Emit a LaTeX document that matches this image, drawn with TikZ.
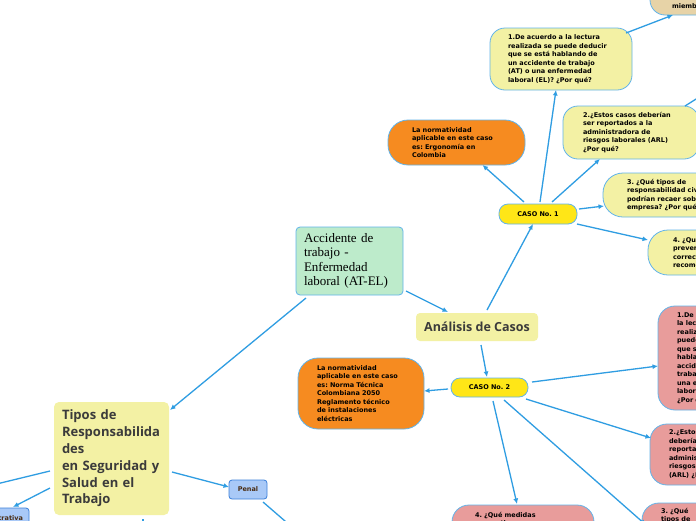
\documentclass[tikz,border=0pt]{standalone}
\usepackage{fontspec}
\setmainfont{DejaVu Sans}
\newfontfamily\slabfont{Liberation Serif}
\newfontfamily\headfont{Open Sans}
\usetikzlibrary{arrows.meta,calc}
\definecolor{conncol}{HTML}{2F9DE2}
\definecolor{bordcol}{HTML}{62B4EA}
\definecolor{qyellow}{HTML}{F3F1A4}
\definecolor{casoyel}{HTML}{FFE617}
\definecolor{orangec}{HTML}{F68B20}
\definecolor{pinkc}{HTML}{E89C9B}
\definecolor{greenc}{HTML}{BDEBCB}
\definecolor{beigec}{HTML}{E7D3A7}
\definecolor{penalfill}{HTML}{A9C9F7}
\definecolor{penalbord}{HTML}{3C80DA}
\definecolor{darktext}{HTML}{3B3B3B}
\definecolor{browntext}{HTML}{4A2C12}
\begin{document}
\frenchspacing
\begin{tikzpicture}[x=1pt,y=-1pt,
  conn/.style={draw=conncol,line width=1.3pt,-{Latex[length=5.5pt,width=5pt]}},
  plainconn/.style={draw=conncol,line width=1.3pt},
  box/.style={anchor=north west,inner ysep=0pt,outer sep=0pt,align=left,draw=bordcol,line width=0.8pt,
    font=\fontsize{6.5}{8.5}\selectfont\bfseries,text=black},
  qbox/.style={box,fill=qyellow,rounded corners=15pt},
  obox/.style={box,fill=orangec,rounded corners=20pt},
  pbox/.style={box,fill=pinkc,rounded corners=17pt},
  casobox/.style={box,fill=casoyel,rounded corners=9pt,align=center},
  bigbox/.style={anchor=north west,outer sep=0pt,inner ysep=0pt,align=left,rounded corners=5pt,
    font=\headfont\bfseries\fontsize{13}{16.8}\selectfont,text=darktext,fill=qyellow}
]
\useasboundingbox (0,0) rectangle (696,520);
\clip (0,0) rectangle (696,520);
\fill[white] (0,0) rectangle (696,520);

% ---- nodes ----
\node[box,fill=beigec,rounded corners=15pt,anchor=south west,inner xsep=22pt,text width=80pt,
  text height=33pt,text depth=7pt] (beige) at (650,15) {miembros};

\node[qbox,minimum width=142,minimum height=62,inner xsep=18pt,text width=106pt] (q1) at (490,28)
 {1.De acuerdo a la lectura\\realizada se puede deducir\\que se está hablando de\\un accidente de trabajo\\(AT) o una enfermedad\\laboral (EL)? ¿Por qué?};

\node[qbox,minimum width=136,minimum height=53,inner xsep=20pt,text width=96pt] (q2) at (563,106)
 {2.¿Estos casos deberían\\ser reportados a la\\administradora de\\riesgos laborales (ARL)\\¿Por qué?};

\node[obox,minimum width=137,minimum height=45,inner xsep=24pt,text width=89pt] (o1) at (388,120)
 {La normatividad\\aplicable en este caso\\es: Ergonomía en\\Colombia};

\node[casobox,minimum width=78,minimum height=20,inner xsep=4pt,text width=70pt] (caso1) at (499,204) {CASO No. 1};

\node[qbox,rounded corners=20pt,minimum width=180,minimum height=44,inner xsep=24pt,text width=132pt] (q3) at (603,173)
 {3. ¿Qué tipos de\\responsabilidad civil\\podrían recaer sobre la\\empresa? ¿Por qué?};

\node[qbox,rounded corners=20pt,minimum width=150,minimum height=45,inner xsep=25pt,text width=100pt] (q4) at (648,230)
 {4. ¿Qué medidas\\preventivas y\\correctivas\\recomendaría?};

\node[box,fill=greenc,rounded corners=4pt,minimum width=107,minimum height=68,inner xsep=8pt,text width=91pt,
  font=\slabfont\fontsize{13}{14.3}\selectfont] (acc) at (296,227)
 {Accidente de\\trabajo -\\Enfermedad\\laboral (AT-EL)};

\node[anchor=north west,outer sep=0pt,inner sep=0pt,fill=qyellow,rounded corners=4pt,minimum width=122,minimum height=28,
  font=\headfont\bfseries\fontsize{12.5}{14}\selectfont,text=darktext] (an) at (416,313) {Análisis de Casos};

\node[casobox,minimum width=77,minimum height=19,inner xsep=4pt,text width=69pt] (caso2) at (451,378) {CASO No. 2};

\node[obox,minimum width=126,minimum height=71,inner xsep=19pt,text width=88pt] (o2) at (298,358)
 {La normatividad\\aplicable en este caso\\es: Norma Técnica\\Colombiana 2050\\Reglamento técnico\\de instalaciones\\eléctricas};

\node[pbox,minimum width=130,minimum height=104,inner xsep=19pt,text width=92pt] (p1) at (658,306)
 {1.De acuerdo a\\la lectura\\realizada se\\puede deducir\\que se está\\hablando de un\\accidente de\\trabajo (AT) o\\una enfermedad\\laboral (EL)?\\¿Por qué?};

\node[pbox,minimum width=140,minimum height=61,inner xsep=19pt,text width=102pt] (p2) at (650,424)
 {2.¿Estos casos\\deberían ser\\reportados a la\\administradora de\\riesgos laborales\\(ARL) ¿Por qué?};

\node[pbox,inner ysep=5pt,inner xsep=19pt,text width=110pt] (p3) at (642,503)
 {3. ¿Qué\\tipos de\\responsabilidad\\podrían recaer\\sobre la empresa?};

\node[pbox,inner ysep=7pt,inner xsep=23pt,text width=96pt] (p4) at (452,505)
 {4. ¿Qué medidas\\preventivas y\\correctivas\\recomendaría?};

\node[bigbox,minimum width=115,minimum height=113,inner xsep=8pt,text width=99pt] (tipos) at (54,402)
 {Tipos de\\Responsabilida\\des\\en Seguridad y\\Salud en el\\Trabajo};

\node[anchor=north west,outer sep=0pt,inner sep=0pt,draw=penalbord,line width=0.8pt,fill=penalfill,rounded corners=3pt,
  minimum width=38,minimum height=19,font=\fontsize{6.5}{8}\selectfont\bfseries,text=browntext] (penal) at (229,480) {Penal};

\node[anchor=north east,outer sep=0pt,inner ysep=0pt,inner xsep=6pt,draw=penalbord,line width=0.8pt,fill=penalfill,rounded corners=3pt,
  minimum height=20,font=\fontsize{6.5}{8}\selectfont\bfseries,text=browntext] (admin) at (29,508) {Administrativa};

% off-picture ends
\coordinate (offq2) at (720,84);
\coordinate (offpenal) at (300,534);
\coordinate (offleft) at (-20,488);
\coordinate (offdown) at (143,540);
\coordinate (p3in) at ($(p3.north west)+(4,22)$);

% ---- connectors ----
\draw[conn] ($(q1.north east)+(-6,5)$) -- ($(beige.south west)+(23,0)$);
\draw[plainconn] ($(q2.north east)+(-14,0)$) -- (offq2);
\draw[conn] ($(caso1.north)+(-14,-2)$) -- ($(o1.south)+(26,0)$);
\draw[conn] ($(caso1.north)+(2,-2)$) -- ($(q1.south)+(-5,0)$);
\draw[conn] ($(caso1.north)+(14,-2)$) -- ($(q2.south west)+(37,0)$);
\draw[conn] ($(caso1.east)+(2,-5)$) -- ($(q3.west)+(1,11)$);
\draw[conn] ($(caso1.south east)+(0,0)$) -- ($(q4.north west)+(0,10)$);

\draw[conn] ($(acc.south east)+(3,-4)$) -- ($(an.north)+(-29,-1)$);
\draw[conn] ($(an.north)+(10,-3)$) -- ($(caso1.south)+(-5,0)$);
\draw[conn] ($(an.south)+(4,4)$) -- ($(caso2.north)+(-2.5,-1)$);

\draw[conn] ($(caso2.west)+(-3,1.5)$) -- ($(o2.east)+(0,-2.5)$);
\draw[conn] ($(caso2.east)+(4,-5.5)$) -- ($(p1.west)+(0,8)$);
\draw[conn] ($(caso2.south east)+(-2,2)$) -- ($(p2.north west)+(1,14)$);
\draw[conn] ($(caso2.south)+(14.5,3)$) -- (p3in);
\draw[conn] ($(caso2.south)+(3.5,4)$) -- ($(p4.north)+(-6,-1)$);

\draw[conn] ($(acc.south west)+(10,3)$) -- ($(tipos.north east)+(1,8)$);
\draw[conn] ($(tipos.east)+(3,13.5)$) -- ($(penal.west)+(0,-2.5)$);
\draw[plainconn] ($(penal.south east)+(-4,3)$) -- (offpenal);
\draw[plainconn] ($(tipos.west)+(-4,12.5)$) -- (offleft);
\draw[conn] ($(tipos.west)+(-4,29.5)$) -- ($(admin.north east)+(-16,-1)$);
\draw[plainconn] ($(tipos.south)+(31.5,4)$) -- (offdown);
\end{tikzpicture}
\end{document}
